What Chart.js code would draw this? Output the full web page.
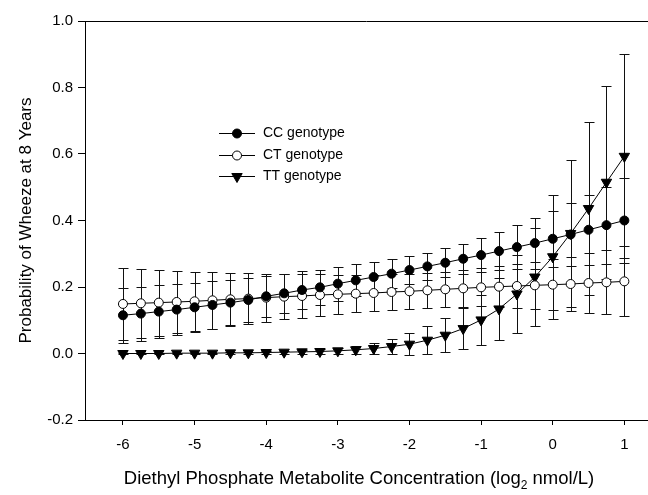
<!DOCTYPE html>
<html>
<head>
<meta charset="utf-8">
<script src="https://cdn.jsdelivr.net/npm/chart.js@4.4.1/dist/chart.umd.min.js"></script>
<style>
  html, body { margin: 0; padding: 0; background: #fff; }
  canvas { display: block; }
</style>
</head>
<body>
<canvas id="canvas" width="648" height="495"></canvas>
<script>
// concentration (log2 nmol/L), one point every 0.25
const xVals = [-6, -5.75, -5.5, -5.25, -5, -4.75, -4.5, -4.25, -4, -3.75, -3.5, -3.25, -3, -2.75, -2.5,
  -2.25, -2, -1.75, -1.5, -1.25, -1, -0.75, -0.5, -0.25, 0, 0.25, 0.5, 0.75, 1];

// predicted probability of wheeze, per genotype
const ccVals = [0.115, 0.120, 0.126, 0.132, 0.139, 0.146, 0.153, 0.161, 0.172, 0.181, 0.191, 0.199, 0.210, 0.220, 0.230,
  0.240, 0.251, 0.262, 0.273, 0.285, 0.296, 0.308, 0.320, 0.332, 0.345, 0.358, 0.372, 0.386, 0.400];
const ctVals = [0.149, 0.151, 0.153, 0.155, 0.157, 0.160, 0.163, 0.165, 0.168, 0.171, 0.173, 0.176, 0.178, 0.180, 0.182,
  0.185, 0.187, 0.190, 0.193, 0.196, 0.199, 0.201, 0.203, 0.205, 0.207, 0.209, 0.212, 0.214, 0.217];
const ttVals = [0.000, 0.000, 0.000, 0.001, 0.001, 0.001, 0.002, 0.002, 0.003, 0.004, 0.005, 0.006, 0.008, 0.011, 0.015,
  0.021, 0.028, 0.040, 0.055, 0.075, 0.101, 0.134, 0.179, 0.230, 0.291, 0.361, 0.436, 0.515, 0.593];

// half width of the error bars
const ccErr = [0.083, 0.081, 0.079, 0.077, 0.074, 0.071, 0.068, 0.065, 0.062, 0.059, 0.056, 0.053, 0.051, 0.048, 0.045,
  0.043, 0.042, 0.041, 0.043, 0.045, 0.051, 0.057, 0.066, 0.077, 0.085, 0.095, 0.106, 0.116, 0.127];
const ctErr = [0.109, 0.104, 0.099, 0.094, 0.089, 0.085, 0.080, 0.076, 0.072, 0.068, 0.065, 0.062, 0.059, 0.056, 0.054,
  0.053, 0.052, 0.052, 0.053, 0.055, 0.057, 0.061, 0.065, 0.070, 0.076, 0.081, 0.089, 0.096, 0.105];
const ttErr = [0.001, 0.001, 0.001, 0.002, 0.002, 0.002, 0.003, 0.003, 0.004, 0.005, 0.006, 0.008, 0.010, 0.013, 0.017,
  0.024, 0.033, 0.042, 0.051, 0.062, 0.074, 0.092, 0.117, 0.146, 0.187, 0.221, 0.260, 0.290, 0.307];

const labels = ['CC genotype', 'CT genotype', 'TT genotype'];
const xTicks = [-6, -5, -4, -3, -2, -1, 0, 1];
const yTicks = [-0.2, 0, 0.2, 0.4, 0.6, 0.8, 1.0];

const FONT = "Arial, 'Liberation Sans', sans-serif";

const toPoints = vals => vals.map((v, i) => ({ x: xVals[i], y: v }));
const errs = [ccErr, ctErr, ttErr];

const errorBars = {
  id: 'errorBars',
  beforeDatasetsDraw(chart) {
    const ctx = chart.ctx, xs = chart.scales.x, ys = chart.scales.y;
    ctx.save();
    ctx.strokeStyle = '#111';
    ctx.lineWidth = 1;
    chart.data.datasets.forEach((ds, i) => {
      ds.data.forEach((p, j) => {
        const e = errs[i][j];
        const px = Math.round(xs.getPixelForValue(p.x)) + 0.5;
        const top = Math.round(ys.getPixelForValue(p.y + e)) + 0.5;
        const bot = Math.round(ys.getPixelForValue(p.y - e)) + 0.5;
        ctx.beginPath();
        ctx.moveTo(px, top); ctx.lineTo(px, bot);
        ctx.moveTo(px - 5, top); ctx.lineTo(px + 5, top);
        ctx.moveTo(px - 5, bot); ctx.lineTo(px + 5, bot);
        ctx.stroke();
      });
    });
    ctx.restore();
  }
};

function marker(ctx, kind, x, y) {
  ctx.beginPath();
  if (kind === 'tri') {
    const r = 6;
    ctx.moveTo(x - r * 0.866, y - r * 0.5);
    ctx.lineTo(x + r * 0.866, y - r * 0.5);
    ctx.lineTo(x, y + r);
    ctx.closePath();
    ctx.fillStyle = '#000';
  } else {
    ctx.arc(x, y, 4.5, 0, Math.PI * 2);
    ctx.fillStyle = kind === 'open' ? '#fff' : '#000';
  }
  ctx.fill();
  ctx.stroke();
}

const decorations = {
  id: 'decorations',
  afterDraw(chart) {
    const ctx = chart.ctx, a = chart.chartArea;
    ctx.save();
    // top frame line
    ctx.strokeStyle = '#000';
    ctx.lineWidth = 1;
    ctx.beginPath();
    ctx.moveTo(a.left, Math.round(a.top) + 0.5);
    ctx.lineTo(a.right, Math.round(a.top) + 0.5);
    ctx.stroke();

    // legend
    const kinds = ['filled', 'open', 'tri'];
    const rows = [133, 155, 176];
    ctx.font = '14px ' + FONT;
    ctx.textBaseline = 'middle';
    rows.forEach((ry, i) => {
      ctx.strokeStyle = '#000';
      ctx.beginPath();
      ctx.moveTo(219, ry + 0.5); ctx.lineTo(255, ry + 0.5);
      ctx.stroke();
      marker(ctx, kinds[i], 237, ry + 0.5);
      ctx.fillStyle = '#000';
      ctx.textAlign = 'left';
      ctx.fillText(labels[i], 263, ry);
    });

    // y axis title
    ctx.save();
    ctx.translate(26, (a.top + a.bottom) / 2);
    ctx.rotate(-Math.PI / 2);
    ctx.font = '17px ' + FONT;
    ctx.textAlign = 'center';
    ctx.fillStyle = '#000';
    ctx.fillText('Probability of Wheeze at 8 Years', 0, 0);
    ctx.restore();

    // x axis title with subscript
    const p1 = 'Diethyl Phosphate Metabolite Concentration (log', sub = '2', p2 = ' nmol/L)';
    const big = '18.5px ' + FONT, small = '12px ' + FONT;
    ctx.font = big; const w1 = ctx.measureText(p1).width, w3 = ctx.measureText(p2).width;
    ctx.font = small; const w2 = ctx.measureText(sub).width;
    let x0 = 359 - (w1 + w2 + w3) / 2;
    const ty = 479;
    ctx.textAlign = 'left';
    ctx.fillStyle = '#000';
    ctx.font = big; ctx.fillText(p1, x0, ty); x0 += w1;
    ctx.font = small; ctx.fillText(sub, x0, ty + 7); x0 += w2;
    ctx.font = big; ctx.fillText(p2, x0, ty);
    ctx.restore();
  }
};

new Chart(document.getElementById('canvas').getContext('2d'), {
  type: 'line',
  data: {
    datasets: [
      { label: labels[0], data: toPoints(ccVals), borderColor: '#000', borderWidth: 1,
        pointStyle: 'circle', pointRadius: 4.5, pointBackgroundColor: '#000', pointBorderColor: '#000', pointBorderWidth: 1 },
      { label: labels[1], data: toPoints(ctVals), borderColor: '#000', borderWidth: 1,
        pointStyle: 'circle', pointRadius: 4.5, pointBackgroundColor: '#fff', pointBorderColor: '#000', pointBorderWidth: 1 },
      { label: labels[2], data: toPoints(ttVals), borderColor: '#000', borderWidth: 1,
        pointStyle: 'triangle', pointRotation: 180, pointRadius: 6, pointBackgroundColor: '#000', pointBorderColor: '#000', pointBorderWidth: 1 }
    ]
  },
  options: {
    responsive: false,
    animation: false,
    events: [],
    layout: { autoPadding: false, padding: { top: 21, right: 0, left: 0, bottom: 0 } },
    plugins: { legend: { display: false }, tooltip: { enabled: false } },
    scales: {
      x: {
        type: 'linear',
        min: -6.53, max: 1.33,
        afterBuildTicks: s => { s.ticks = xTicks.map(v => ({ value: v })); },
        afterFit: s => { s.height = 75; },
        border: { display: true, color: '#000', width: 1 },
        grid: { drawOnChartArea: false, drawTicks: true, tickLength: 5, color: '#000' },
        ticks: { color: '#000', font: { size: 15, family: FONT }, padding: 11, maxRotation: 0 }
      },
      y: {
        type: 'linear',
        min: -0.2, max: 1.0,
        afterBuildTicks: s => { s.ticks = yTicks.map(v => ({ value: v })); },
        afterFit: s => { s.width = 85; },
        border: { display: true, color: '#000', width: 1 },
        grid: { drawOnChartArea: false, drawTicks: true, tickLength: 7, color: '#000' },
        ticks: { color: '#000', font: { size: 15, family: FONT }, padding: 5, callback: v => v.toFixed(1) }
      }
    }
  },
  plugins: [errorBars, decorations]
});
</script>
</body>
</html>
